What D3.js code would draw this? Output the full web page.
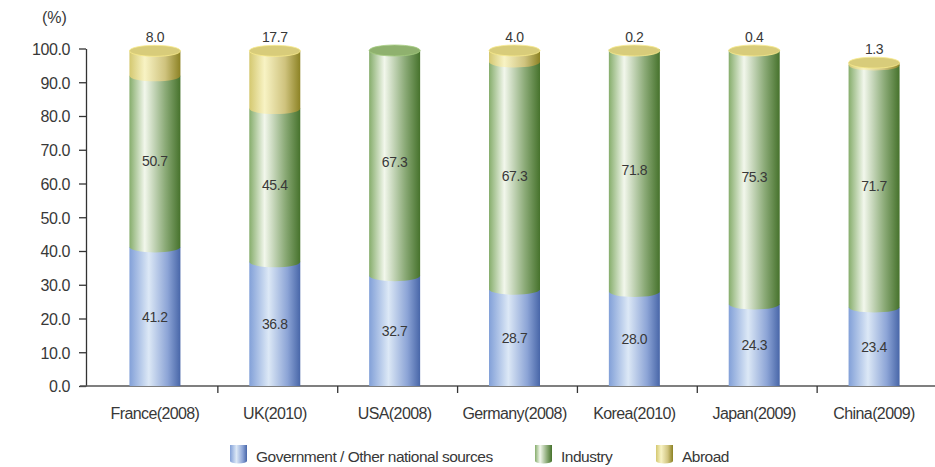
<!DOCTYPE html>
<html>
<head>
<meta charset="utf-8">
<script src="https://cdn.jsdelivr.net/npm/d3@7/dist/d3.min.js"></script>
<style>
  html, body { margin: 0; padding: 0; background: #fff; }
  svg { display: block; font-family: "Liberation Sans", Arial, sans-serif; }
</style>
</head>
<body>
<svg id="chart" width="935" height="467"></svg>
<script>
// R&D funding sources by country (% of gross domestic expenditure on R&D)
const categories = ["France(2008)", "UK(2010)", "USA(2008)", "Germany(2008)", "Korea(2010)", "Japan(2009)", "China(2009)"];
const government = [41.2, 36.8, 32.7, 28.7, 28.0, 24.3, 23.4];
const industry   = [50.7, 45.4, 67.3, 67.3, 71.8, 75.3, 71.7];
const abroad     = [8.0, 17.7, 0, 4.0, 0.2, 0.4, 1.3];
const seriesNames = ["Government / Other national sources", "Industry", "Abroad"];
const yTicks = [0, 10, 20, 30, 40, 50, 60, 70, 80, 90, 100];

const series = [
  { key: "gov", name: seriesNames[0], values: government,
    stops: [["0%", "#82a0d8"], ["38%", "#dce8f6"], ["75%", "#8ca4d6"], ["100%", "#4866a8"]], cap: "#9db4e0" },
  { key: "ind", name: seriesNames[1], values: industry,
    stops: [["0%", "#86ad6c"], ["30%", "#f2f7ec"], ["70%", "#8cab78"], ["100%", "#46722c"]], cap: "#8fb16e" },
  { key: "abr", name: seriesNames[2], values: abroad,
    stops: [["0%", "#d4c870"], ["30%", "#f8f3c4"], ["70%", "#cfc37e"], ["100%", "#8c8224"]], cap: "#d8cc7a" }
];

const svg = d3.select("#chart");
const defs = svg.append("defs");
series.forEach(s => {
  const g = defs.append("linearGradient").attr("id", "grad-" + s.key)
    .attr("x1", 0).attr("x2", 1).attr("y1", 0).attr("y2", 0);
  s.stops.forEach(([o, c]) => g.append("stop").attr("offset", o).attr("stop-color", c));
});

const y = d3.scaleLinear().domain([0, 100]).range([386, 48.5]);
const x = d3.scaleBand().domain(categories).range([98, 937]).paddingInner(0).paddingOuter(0);
const barW = 51;
const ry = 5.5;
const textColor = "#383838";

// y axis
const yAxis = svg.append("g").attr("transform", "translate(86,0)")
  .call(d3.axisLeft(y).tickValues(yTicks).tickFormat(d => d.toFixed(1)).tickSize(7).tickSizeOuter(0).tickPadding(9));
yAxis.select(".domain").attr("stroke", "#333").attr("stroke-width", 1.3);
yAxis.selectAll(".tick line").attr("stroke", "#333").attr("stroke-width", 1.3);
yAxis.selectAll(".tick text").attr("fill", textColor).style("font-size", "16px")
  .style("letter-spacing", "-0.4px").attr("dy", "0.36em");

svg.append("text").attr("x", 42).attr("y", 23).attr("fill", textColor)
  .style("font-size", "16px").text("(%)");

// x axis baseline and separators between categories
svg.append("line").attr("x1", 80).attr("x2", 935).attr("y1", y(0)).attr("y2", y(0))
  .attr("stroke", "#555").attr("stroke-width", 1.3);
svg.selectAll(".xsep").data(categories.slice(1)).join("line")
  .attr("class", "xsep")
  .attr("x1", d => x(d)).attr("x2", d => x(d))
  .attr("y1", y(0)).attr("y2", y(0) + 7)
  .attr("stroke", "#333").attr("stroke-width", 1.3);
svg.selectAll(".xlabel").data(categories).join("text")
  .attr("class", "xlabel")
  .attr("x", d => x(d) + x.bandwidth() / 2 - 3)
  .attr("y", 419)
  .attr("text-anchor", "middle")
  .attr("fill", textColor)
  .style("font-size", "16px")
  .style("letter-spacing", "-0.6px")
  .text(d => d);

// cylinders
const bars = svg.append("g");
categories.forEach((cat, i) => {
  const cx = x(cat) + x.bandwidth() / 2 - 3;
  const x0 = cx - barW / 2;
  let base = 0;
  let topSeries = null;
  const segs = [];
  series.forEach(s => {
    const v = s.values[i];
    if (!v) return;
    segs.push({ s, v, lo: base, hi: base + v });
    base += v;
    topSeries = s;
  });
  const total = base;
  const capY = y(total) + 2;
  segs.forEach((seg, k) => {
    const yTop = k === segs.length - 1 ? capY : y(seg.hi);
    const yBot = y(seg.lo);
    let d;
    if (seg.lo === 0) {
      d = `M${x0},${yTop}L${x0 + barW},${yTop}L${x0 + barW},${yBot}L${x0},${yBot}Z`;
    } else {
      d = `M${x0},${yTop}L${x0 + barW},${yTop}L${x0 + barW},${yBot}` +
          `A${barW / 2},${ry} 0 0 1 ${x0},${yBot}Z`;
    }
    bars.append("path").attr("d", d).attr("fill", `url(#grad-${seg.s.key})`);
  });
  // top cap
  bars.append("ellipse")
    .attr("cx", cx).attr("cy", capY)
    .attr("rx", barW / 2).attr("ry", ry)
    .attr("fill", topSeries.cap)
    .attr("stroke", d3.color(topSeries.cap).brighter(0.4))
    .attr("stroke-width", 0.8);

  // value labels
  segs.forEach(seg => {
    const t = bars.append("text").attr("x", cx)
      .attr("text-anchor", "middle").attr("fill", textColor)
      .style("font-size", "14px").style("letter-spacing", "-0.4px")
      .text(seg.v.toFixed(1));
    if (seg.s.key === "abr") {
      t.attr("y", y(total) - 7);
    } else {
      t.attr("y", (y(seg.lo) + y(seg.hi)) / 2).attr("dy", "0.36em");
    }
  });
});

// legend
const legendPos = [230, 535, 656];
const legend = svg.append("g");
series.forEach((s, k) => {
  const lx = legendPos[k];
  legend.append("path")
    .attr("d", `M${lx},445L${lx + 17},445L${lx + 17},461A8.5,2.5 0 0 1 ${lx},461Z`)
    .attr("fill", `url(#grad-${s.key})`);
  legend.append("text").attr("x", lx + 26).attr("y", 462)
    .attr("fill", textColor).style("font-size", "15.5px").style("letter-spacing", "-0.5px")
    .text(s.name);
});
</script>
</body>
</html>
